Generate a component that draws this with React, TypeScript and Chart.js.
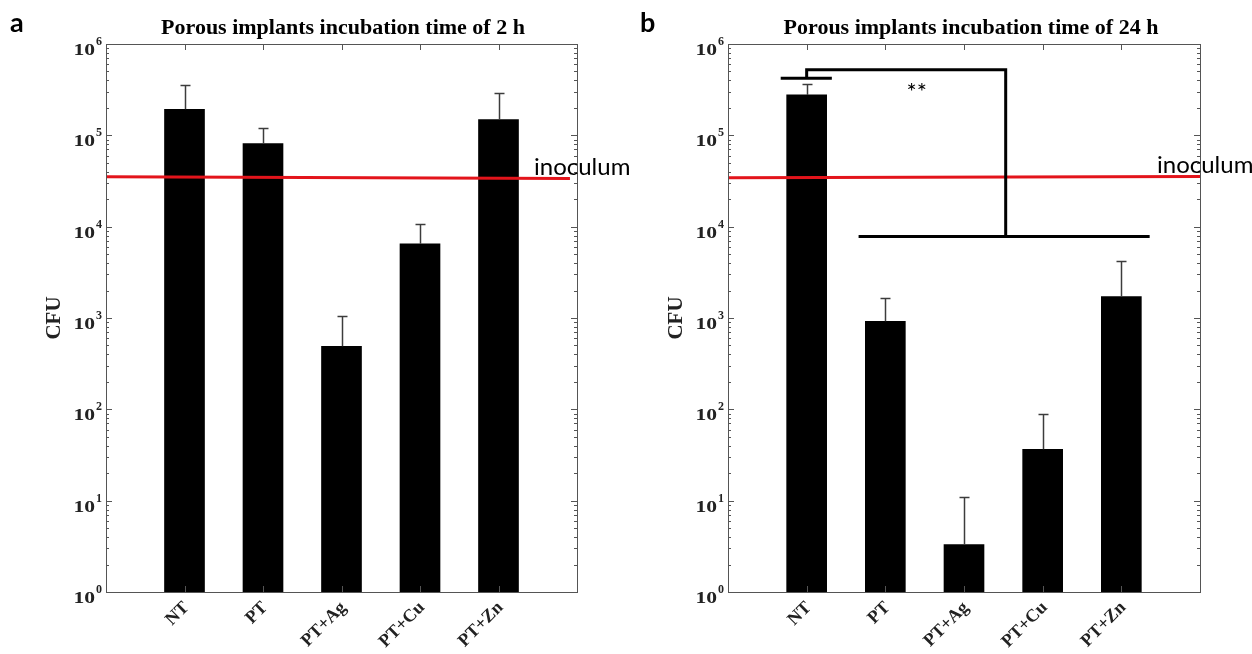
import React, { useEffect, useRef } from 'react';
import { Chart, registerables } from 'chart.js';

Chart.register(...registerables);

// Groups on the x axis
const categories = ['NT', 'PT', 'PT+Ag', 'PT+Cu', 'PT+Zn'];

// Mean CFU and upper error limit, 2 h incubation
const cfu2h = [1.93e5, 8.1e4, 490, 6.5e3, 1.49e5];
const cfu2hUpper = [3.55e5, 1.21e5, 1.05e3, 1.06e4, 2.94e5];

// Mean CFU and upper error limit, 24 h incubation
const cfu24h = [2.77e5, 920, 3.3, 36.5, 1.72e3];
const cfu24hUpper = [3.63e5, 1.66e3, 11.1, 90, 4.25e3];

// Inoculum reference line (value at the left and right end, and x extent)
const inoculum2h = [3.52e4, 3.37e4];
const inoculum2hSpan = [0, 5.91];
const inoculum24h = [3.43e4, 3.55e4];
const inoculum24hSpan = [0, 6];

// Decade exponents shown on the y axis
const yExponents = [0, 1, 2, 3, 4, 5, 6];

// Significance bracket (24 h): NT versus the treated groups
const sigCapSpan = [0.67, 1.32];
const sigCapValue = 4.22e5;
const sigTopValue = 5.24e5;
const sigJoinX = [1.0, 3.53];
const sigBaseSpan = [1.66, 5.36];
const sigBaseValue = 7.8e3;
const sigLabel = '**';
const sigLabelPos = [2.4, 3.3e5];

const SERIF = '"Liberation Serif", "Times New Roman", serif';
const SANS = 'Lato, "Open Sans", sans-serif';
const AXIS = '#555';

type PanelProps = {
  letter: string;
  title: string;
  titleShift: number;
  values: number[];
  upper: number[];
  inoc: number[];
  inocSpan: number[];
  left: number;
  width: number;
  padding: { left: number; right: number; top: number; bottom: number };
  letterX: number;
  bracket: boolean;
};

function Panel(p: PanelProps) {
  const ref = useRef<HTMLCanvasElement>(null);

  useEffect(() => {
    const canvas = ref.current;
    if (!canvas) return;

    const decorations = {
      id: 'decorations',
      afterDraw(chart: any) {
        const { ctx, chartArea: a, scales } = chart;
        const x = scales.x;
        const y = scales.y;
        const seg = (x1: number, y1: number, x2: number, y2: number) => {
          ctx.beginPath();
          ctx.moveTo(x1, y1);
          ctx.lineTo(x2, y2);
          ctx.stroke();
        };
        ctx.save();

        // error bars (upper whisker only)
        ctx.strokeStyle = '#3c3c3c';
        ctx.lineWidth = 1.5;
        p.values.forEach((v, i) => {
          const px = Math.round(x.getPixelForValue(i + 1)) + 0.5;
          const y0 = y.getPixelForValue(v);
          const y1 = Math.round(y.getPixelForValue(p.upper[i])) + 0.5;
          seg(px, y0, px, y1);
          seg(px - 5, y1, px + 5, y1);
        });

        // axes box
        ctx.strokeStyle = AXIS;
        ctx.lineWidth = 1;
        ctx.strokeRect(Math.round(a.left) + 0.5, Math.round(a.top) + 0.5, Math.round(a.right - a.left), Math.round(a.bottom - a.top));

        // y ticks, major and minor, both sides, pointing inward
        yExponents.forEach((e) => {
          const py = Math.round(y.getPixelForValue(Math.pow(10, e))) + 0.5;
          seg(a.left, py, a.left + 6, py);
          seg(a.right, py, a.right - 6, py);
          if (e < yExponents[yExponents.length - 1]) {
            for (let k = 2; k <= 9; k++) {
              const my = Math.round(y.getPixelForValue(k * Math.pow(10, e))) + 0.5;
              seg(a.left, my, a.left + 3, my);
              seg(a.right, my, a.right - 3, my);
            }
          }
        });

        // x ticks at group positions, top and bottom
        categories.forEach((_, i) => {
          const px = Math.round(x.getPixelForValue(i + 1)) + 0.5;
          seg(px, a.top, px, a.top + 6);
          seg(px, a.bottom, px, a.bottom - 6);
        });

        // y tick labels: 10 with superscript exponent
        ctx.fillStyle = '#222';
        yExponents.forEach((e) => {
          const py = y.getPixelForValue(Math.pow(10, e));
          ctx.font = `bold 12px ${SERIF}`;
          ctx.textAlign = 'right';
          ctx.textBaseline = 'alphabetic';
          ctx.fillText(String(e), a.left - 4, py + 1);
          ctx.save();
          ctx.translate(a.left - 11, py + 11);
          ctx.scale(1.35, 1);
          ctx.font = `bold 16px ${SERIF}`;
          ctx.fillText('10', 0, 0);
          ctx.restore();
        });

        // x tick labels, rotated
        ctx.font = `bold 18px ${SERIF}`;
        categories.forEach((c, i) => {
          const px = x.getPixelForValue(i + 1);
          ctx.save();
          ctx.translate(px + 2, a.bottom + 13);
          ctx.rotate(-Math.PI / 4);
          ctx.textAlign = 'right';
          ctx.textBaseline = 'middle';
          ctx.fillText(c, 0, 0);
          ctx.restore();
        });

        // y axis title
        ctx.save();
        ctx.font = `bold 21px ${SERIF}`;
        ctx.translate(a.left - 51, (a.top + a.bottom) / 2);
        ctx.rotate(-Math.PI / 2);
        ctx.textAlign = 'center';
        ctx.textBaseline = 'middle';
        ctx.fillText('CFU', 0, 0);
        ctx.restore();

        // chart title
        ctx.fillStyle = '#000';
        ctx.font = `bold 22px ${SERIF}`;
        ctx.textAlign = 'center';
        ctx.textBaseline = 'alphabetic';
        ctx.fillText(p.title, (a.left + a.right) / 2 + p.titleShift, 34);

        // panel letter
        ctx.font = `bold 27px ${SANS}`;
        ctx.textAlign = 'left';
        ctx.fillText(p.letter, p.letterX, 32);

        // inoculum label
        ctx.font = `24px ${SANS}`;
        ctx.fillText('inoculum', a.right - 43, y.getPixelForValue(p.inoc[1]) - 3);

        // significance bracket
        if (p.bracket) {
          ctx.strokeStyle = '#000';
          ctx.lineWidth = 3;
          ctx.lineCap = 'butt';
          const capY = y.getPixelForValue(sigCapValue);
          const topY = y.getPixelForValue(sigTopValue);
          const baseY = y.getPixelForValue(sigBaseValue);
          seg(x.getPixelForValue(sigCapSpan[0]), capY, x.getPixelForValue(sigCapSpan[1]), capY);
          ctx.beginPath();
          ctx.moveTo(x.getPixelForValue(sigJoinX[0]), capY);
          ctx.lineTo(x.getPixelForValue(sigJoinX[0]), topY);
          ctx.lineTo(x.getPixelForValue(sigJoinX[1]), topY);
          ctx.lineTo(x.getPixelForValue(sigJoinX[1]), baseY);
          ctx.stroke();
          seg(x.getPixelForValue(sigBaseSpan[0]), baseY, x.getPixelForValue(sigBaseSpan[1]), baseY);
          ctx.font = `24px ${SANS}`;
          ctx.textAlign = 'center';
          ctx.textBaseline = 'middle';
          ctx.fillText(sigLabel, x.getPixelForValue(sigLabelPos[0]), y.getPixelForValue(sigLabelPos[1]) + 4);
        }
        ctx.restore();
      },
    };

    const chart = new Chart(canvas, {
      type: 'bar',
      data: {
        datasets: [
          {
            type: 'line',
            data: [
              { x: p.inocSpan[0], y: p.inoc[0] },
              { x: p.inocSpan[1], y: p.inoc[1] },
            ],
            borderColor: '#e3141b',
            borderWidth: 3,
            pointRadius: 0,
            order: 0,
          } as any,
          {
            type: 'bar',
            data: p.values.map((v, i) => ({ x: i + 1, y: v })),
            backgroundColor: '#000',
            borderWidth: 0,
            barThickness: 40,
            order: 1,
          } as any,
        ],
      },
      options: {
        responsive: false,
        animation: false,
        devicePixelRatio: 1,
        layout: { padding: p.padding },
        plugins: {
          legend: { display: false },
          tooltip: { enabled: false },
        },
        scales: {
          x: { type: 'linear', display: false, offset: false, min: 0, max: 6 },
          y: { type: 'logarithmic', display: false, min: 1, max: 1e6 },
        },
      },
      plugins: [decorations],
    });
    return () => chart.destroy();
  }, []);

  return (
    <canvas
      ref={ref}
      width={p.width}
      height={654}
      style={{ position: 'absolute', left: p.left, top: 0, width: p.width, height: 654 }}
    />
  );
}

export default function App() {
  return (
    <div style={{ position: 'fixed', left: 0, top: 0, width: 1252, height: 654, background: '#fff', overflow: 'hidden' }}>
      <Panel
        letter="a"
        title="Porous implants incubation time of 2 h"
        titleShift={1.5}
        values={cfu2h}
        upper={cfu2hUpper}
        inoc={inoculum2h}
        inocSpan={inoculum2hSpan}
        left={0}
        width={640}
        padding={{ left: 106, right: 63, top: 44, bottom: 62 }}
        letterX={10}
        bracket={false}
      />
      <Panel
        letter="b"
        title="Porous implants incubation time of 24 h"
        titleShift={7}
        values={cfu24h}
        upper={cfu24hUpper}
        inoc={inoculum24h}
        inocSpan={inoculum24hSpan}
        left={626}
        width={626}
        padding={{ left: 102, right: 52, top: 44, bottom: 62 }}
        letterX={14}
        bracket={true}
      />
    </div>
  );
}
